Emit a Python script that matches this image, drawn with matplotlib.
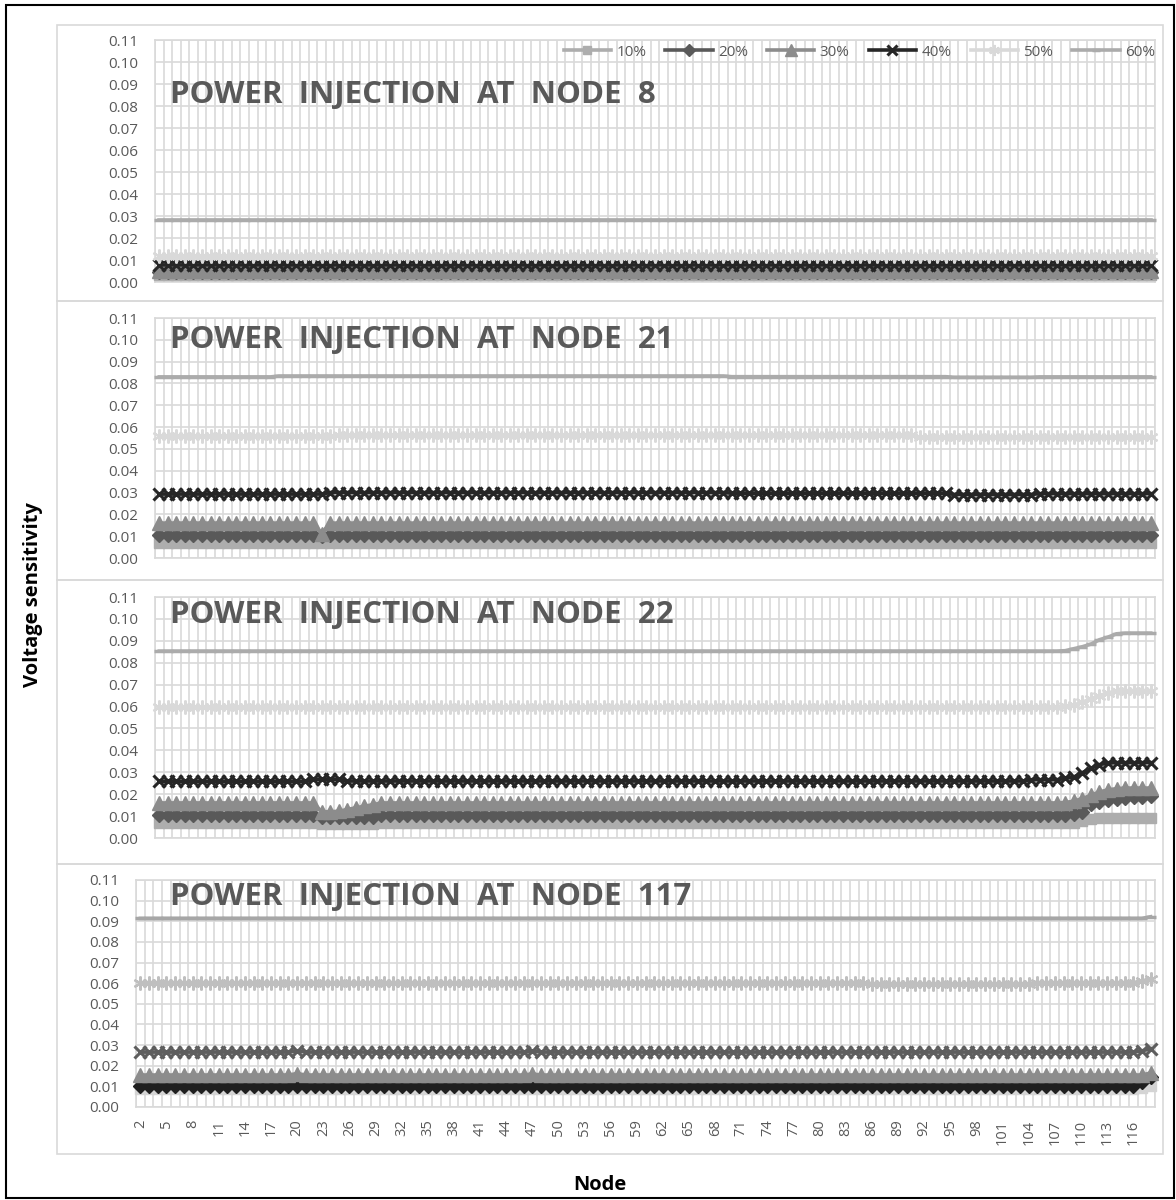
import numpy as np
import matplotlib
matplotlib.use("Agg")
import matplotlib.pyplot as plt
from matplotlib.patches import Rectangle
from matplotlib.ticker import FormatStrFormatter

plt.rcParams['font.family'] = ['Open Sans', 'DejaVu Sans']

# ---------------- data ----------------
NODES = list(range(2, 119))
TICK_NODES = list(range(2, 117, 3))
SERIES = ['10%', '20%', '30%', '40%', '50%', '60%']
Y_TICKS = [0.00, 0.01, 0.02, 0.03, 0.04, 0.05, 0.06, 0.07, 0.08, 0.09, 0.10, 0.11]
TITLES = ['POWER  INJECTION  AT  NODE  8', 'POWER  INJECTION  AT  NODE  21',
          'POWER  INJECTION  AT  NODE  22', 'POWER  INJECTION  AT  NODE  117']
UNIT = 1e-4  # values below are in units of 0.0001

# Injection at node 8
N8_10 = [
 30,30,30,30,30,30,30,30,30,30,
 30,30,30,30,30,30,30,30,30,30,
 30,30,30,30,30,30,30,30,30,30,
 30,30,30,30,30,30,30,30,30,30,
 30,30,30,30,30,30,30,30,30,30,
 30,30,30,30,30,30,30,30,30,30,
 30,30,30,30,30,30,30,30,30,30,
 30,30,30,30,30,30,30,30,30,30,
 30,30,30,30,30,30,30,30,30,30,
 30,30,30,30,30,30,30,30,30,30,
 30,30,30,30,30,30,30,30,30,30,
 30,30,30,30,30,30,30]
N8_20 = [
 45,45,45,45,45,45,45,45,45,45,
 45,45,45,45,45,45,45,45,45,45,
 45,45,45,45,45,45,45,45,45,45,
 45,45,45,45,45,45,45,45,45,45,
 45,45,45,45,45,45,45,45,45,45,
 45,45,45,45,45,45,45,45,45,45,
 45,45,45,45,45,45,45,45,45,45,
 45,45,45,45,45,45,45,45,45,45,
 45,45,45,45,45,45,45,45,45,45,
 45,45,45,45,45,45,45,45,45,45,
 45,45,45,45,45,45,45,45,45,45,
 45,45,45,45,45,45,45]
N8_30 = [
 50,50,50,50,50,50,50,50,50,50,
 50,50,50,50,50,50,50,50,50,50,
 50,50,50,50,50,50,50,50,50,50,
 50,50,50,50,50,50,50,50,50,50,
 50,50,50,50,50,50,50,50,50,50,
 50,50,50,50,50,50,50,50,50,50,
 50,50,50,50,50,50,50,50,50,50,
 50,50,50,50,50,50,50,50,50,50,
 50,50,50,50,50,50,50,50,50,50,
 50,50,50,50,50,50,50,50,50,50,
 50,50,50,50,50,50,50,50,50,50,
 50,50,50,50,50,50,50]
N8_40 = [
 77,77,77,77,77,77,77,77,77,77,
 77,77,77,77,77,77,77,77,77,77,
 77,77,77,77,77,77,77,77,77,77,
 77,77,77,77,77,77,77,77,77,77,
 77,77,77,77,77,77,77,77,77,77,
 77,77,77,77,77,77,77,77,77,77,
 77,77,77,77,77,77,77,77,77,77,
 77,77,77,77,77,77,77,77,77,77,
 77,77,77,77,77,77,77,77,77,77,
 77,77,77,77,77,77,77,77,77,77,
 77,77,77,77,77,77,77,77,77,77,
 77,77,77,77,77,77,77]
N8_50 = [
 118,118,118,118,118,118,118,118,118,118,
 118,118,118,118,118,118,118,118,118,118,
 118,118,118,118,118,118,118,118,118,118,
 118,118,118,118,118,118,118,118,118,118,
 118,118,118,118,118,118,118,118,118,118,
 118,118,118,118,118,118,118,118,118,118,
 118,118,118,118,118,118,118,118,118,118,
 118,118,118,118,118,118,118,118,118,118,
 118,118,118,118,118,118,118,118,118,118,
 118,118,118,118,118,118,118,118,118,118,
 118,118,118,118,118,118,118,118,118,118,
 118,118,118,118,118,118,118]
N8_60 = [
 283,283,283,283,283,283,283,283,283,283,
 283,283,283,283,283,283,283,283,283,283,
 283,283,283,283,283,283,283,283,283,283,
 283,283,283,283,283,283,283,283,283,283,
 283,283,283,283,283,283,283,283,283,283,
 283,283,283,283,283,283,283,283,283,283,
 283,283,283,283,283,283,283,283,283,283,
 283,283,283,283,283,283,283,283,283,283,
 283,283,283,283,283,283,283,283,283,283,
 283,283,283,283,283,283,283,283,283,283,
 283,283,283,283,283,283,283,283,283,283,
 283,283,283,283,283,283,283]

# Injection at node 21
N21_10 = [
 68,68,68,68,68,68,68,68,68,68,
 68,68,68,68,68,68,68,68,68,68,
 68,68,68,68,68,68,68,68,68,68,
 68,68,68,68,68,68,68,68,68,68,
 68,68,68,68,68,68,68,68,68,68,
 68,68,68,68,68,68,68,68,68,68,
 68,68,68,68,68,68,68,68,68,68,
 68,68,68,68,68,68,68,68,68,68,
 68,68,68,68,68,68,68,68,68,68,
 68,68,68,68,68,68,68,68,68,68,
 68,68,68,68,68,68,68,68,68,68,
 68,68,68,68,68,68,68]
N21_20 = [
 105,105,105,105,105,105,105,105,105,105,
 105,105,105,105,105,105,105,105,105,102,
 105,105,105,105,105,105,105,105,105,105,
 105,105,105,105,105,105,105,105,105,105,
 105,105,105,105,105,105,105,105,105,105,
 105,105,105,105,105,105,105,105,105,105,
 105,105,105,105,105,105,105,105,105,105,
 105,105,105,105,105,105,105,105,105,105,
 105,105,105,105,105,105,105,105,105,105,
 105,105,105,105,105,105,105,105,105,105,
 105,105,105,105,105,105,105,105,105,105,
 105,105,105,105,105,105,105]
N21_30 = [
 160,160,160,160,160,160,160,160,160,160,
 160,160,160,160,160,160,160,160,160,112,
 160,160,160,160,160,160,160,160,160,160,
 160,160,160,160,160,160,160,160,160,160,
 160,160,160,160,160,160,160,160,160,160,
 160,160,160,160,160,160,160,160,160,160,
 160,160,160,160,160,160,160,160,160,160,
 160,160,160,160,160,160,160,160,160,160,
 160,160,160,160,160,160,160,160,160,160,
 160,160,160,160,160,160,160,160,160,160,
 160,160,160,160,160,160,160,160,160,160,
 160,160,160,160,160,160,160]
N21_40 = [
 293,293,293,293,293,293,293,293,293,293,
 293,293,293,293,293,293,293,293,293,293,
 300,300,300,300,300,300,300,300,300,300,
 300,300,300,300,300,300,300,300,300,300,
 300,300,300,300,300,300,300,300,300,300,
 300,300,300,300,300,300,300,300,300,300,
 300,300,300,300,300,300,300,297,297,297,
 297,297,297,297,297,297,297,297,297,297,
 297,297,297,297,297,297,297,297,297,297,
 297,297,297,291,291,291,291,291,291,291,
 291,291,291,295,295,295,295,295,295,295,
 295,295,295,295,295,295,295]
N21_50 = [
 557,557,557,557,557,557,557,557,557,557,
 557,557,557,557,557,557,557,557,557,557,
 557,562,562,562,562,562,562,562,562,562,
 562,562,562,562,562,562,562,562,562,562,
 562,562,562,562,562,562,562,562,562,562,
 562,562,562,562,562,562,562,562,562,562,
 562,562,562,562,562,562,562,562,562,562,
 562,562,562,562,562,562,562,562,562,562,
 562,562,562,562,562,562,562,562,562,553,
 553,553,553,553,553,553,553,553,553,553,
 553,553,553,556,556,556,556,556,556,556,
 556,556,556,556,556,556,556]
N21_60 = [
 830,830,830,830,830,830,830,830,830,830,
 830,830,830,830,834,834,834,834,834,834,
 834,834,834,834,834,834,834,834,834,834,
 834,834,834,834,834,834,834,834,834,834,
 834,834,834,834,834,834,834,834,834,834,
 834,834,834,834,834,834,834,834,834,834,
 834,834,834,834,834,834,834,831,831,831,
 831,831,831,831,831,831,831,831,831,831,
 831,831,831,831,831,831,831,831,831,831,
 831,831,831,828,828,828,828,828,828,828,
 828,828,828,830,830,830,830,830,830,830,
 830,830,830,830,830,830,830]

# Injection at node 22
N22_10 = [
 70,70,70,70,70,70,70,70,70,70,
 70,70,70,70,70,70,70,70,70,65,
 65,65,65,65,65,65,70,70,70,70,
 70,70,70,70,70,70,70,70,70,70,
 70,70,70,70,70,70,70,70,70,70,
 70,70,70,70,70,70,70,70,70,70,
 70,70,70,70,70,70,70,70,70,70,
 70,70,70,70,70,70,70,70,70,70,
 70,70,70,70,70,70,70,70,70,70,
 70,70,70,70,70,70,70,70,70,70,
 70,70,70,70,70,70,70,70,78,86,
 93,93,93,93,93,93,93]
N22_20 = [
 105,105,105,105,105,105,105,105,105,105,
 105,105,105,105,105,105,105,105,105,98,
 98,98,98,98,98,98,105,105,105,105,
 105,105,105,105,105,105,105,105,105,105,
 105,105,105,105,105,105,105,105,105,105,
 105,105,105,105,105,105,105,105,105,105,
 105,105,105,105,105,105,105,105,105,105,
 105,105,105,105,105,105,105,105,105,105,
 105,105,105,105,105,105,105,105,105,105,
 105,105,105,105,105,105,105,105,105,105,
 105,105,105,105,105,105,105,108,120,155,
 165,172,178,182,186,189,192]
N22_30 = [
 160,160,160,160,160,160,160,160,160,160,
 160,160,160,160,160,160,160,160,160,120,
 120,122,130,138,145,152,160,160,160,160,
 160,160,160,160,160,160,160,160,160,160,
 160,160,160,160,160,160,160,160,160,160,
 160,160,160,160,160,160,160,160,160,160,
 160,160,160,160,160,160,160,160,160,160,
 160,160,160,160,160,160,160,160,160,160,
 160,160,160,160,160,160,160,160,160,160,
 160,160,160,160,160,160,160,160,160,160,
 160,160,160,160,160,160,162,168,180,195,
 210,220,225,228,228,228,228]
N22_40 = [
 258,258,258,258,258,258,258,258,258,258,
 258,258,258,258,258,258,258,258,268,268,
 268,268,260,260,260,260,260,260,260,260,
 260,260,260,260,260,260,260,260,260,260,
 260,260,260,260,260,260,260,260,260,260,
 260,260,260,260,260,260,260,260,260,260,
 260,260,260,260,260,260,260,260,260,260,
 260,260,260,260,260,260,260,260,260,260,
 260,260,260,260,260,260,260,260,260,260,
 260,260,260,260,260,260,260,260,260,260,
 260,260,266,266,266,266,272,278,298,318,
 335,342,344,344,344,344,344]
N22_50 = [
 598,598,598,598,598,598,598,598,598,598,
 598,598,598,598,598,598,598,598,598,598,
 598,598,598,598,598,598,598,598,598,598,
 598,598,598,598,598,598,598,598,598,598,
 598,598,598,598,598,598,598,598,598,598,
 598,598,598,598,598,598,598,598,598,598,
 598,598,598,598,598,598,598,598,598,598,
 598,598,598,598,598,598,598,598,598,598,
 598,598,598,598,598,598,598,598,598,598,
 598,598,598,598,598,598,598,598,598,598,
 598,598,598,598,598,598,602,607,620,635,
 650,663,670,672,673,673,673]
N22_60 = [
 853,853,853,853,853,853,853,853,853,853,
 853,853,853,853,853,853,853,853,853,853,
 853,853,853,853,853,853,853,853,853,853,
 853,853,853,853,853,853,853,853,853,853,
 853,853,853,853,853,853,853,853,853,853,
 853,853,853,853,853,853,853,853,853,853,
 853,853,853,853,853,853,853,853,853,853,
 853,853,853,853,853,853,853,853,853,853,
 853,853,853,853,853,853,853,853,853,853,
 853,853,853,853,853,853,853,853,853,853,
 853,853,853,853,853,853,855,864,873,885,
 905,917,932,935,935,935,935]

# Injection at node 117
N117_10 = [
 85,85,85,85,85,85,85,85,85,85,
 85,85,85,85,85,85,85,85,85,85,
 85,85,85,85,85,85,85,85,85,85,
 85,85,85,85,85,85,85,85,85,85,
 85,85,85,85,85,85,85,85,85,85,
 85,85,85,85,85,85,85,85,85,85,
 85,85,85,85,85,85,85,85,85,85,
 85,85,85,85,85,85,85,85,85,85,
 85,85,85,85,85,85,85,85,85,85,
 85,85,85,85,85,85,85,85,85,85,
 85,85,85,85,85,85,85,85,85,85,
 85,85,85,85,85,92,100]
N117_20 = [
 100,100,100,100,100,100,100,100,100,100,
 100,100,100,100,100,100,100,100,100,100,
 100,100,100,100,100,100,100,100,100,100,
 100,100,100,100,100,100,100,100,100,100,
 100,100,100,100,100,100,100,100,100,100,
 100,100,100,100,100,100,100,100,100,100,
 100,100,100,100,100,100,100,100,100,100,
 100,100,100,100,100,100,100,100,100,100,
 100,100,100,100,100,100,100,100,100,100,
 100,100,100,100,100,100,100,100,100,100,
 100,100,100,100,100,100,100,100,100,100,
 100,100,100,100,100,122,147]
N117_30 = [
 155,155,155,155,155,155,155,155,155,155,
 155,155,155,155,155,155,155,155,162,155,
 155,155,155,155,155,155,155,155,155,155,
 155,155,155,155,155,155,155,155,155,155,
 155,155,155,155,155,160,155,155,155,155,
 155,155,155,155,155,155,155,155,155,155,
 155,155,155,155,155,155,155,155,155,155,
 155,155,155,155,155,155,155,155,155,155,
 155,155,155,155,155,155,155,155,155,155,
 155,155,155,155,155,155,155,155,155,155,
 155,155,155,155,155,155,155,155,155,155,
 155,155,155,155,155,155,165]
N117_40 = [
 266,266,266,266,266,266,266,266,266,266,
 266,266,266,266,266,266,266,266,272,266,
 266,266,266,266,266,266,266,266,266,266,
 266,266,266,266,266,266,266,266,266,266,
 266,266,266,266,266,272,266,266,266,266,
 266,266,266,266,266,266,266,266,266,266,
 266,266,266,266,266,266,266,266,266,266,
 266,266,266,266,266,266,266,266,266,266,
 266,266,266,266,266,266,266,266,266,266,
 266,266,266,266,266,266,266,266,266,266,
 266,266,266,266,266,266,266,266,266,266,
 266,266,266,266,266,272,282]
N117_50 = [
 603,603,603,603,603,603,603,603,603,603,
 603,603,603,603,603,603,603,603,603,603,
 603,603,603,603,603,603,603,603,603,603,
 603,603,603,603,603,603,603,603,603,603,
 603,603,603,603,603,603,603,603,603,603,
 603,603,603,603,603,603,603,603,603,603,
 603,603,603,603,603,603,603,603,603,603,
 603,603,603,603,603,603,603,603,603,603,
 603,603,603,603,598,598,598,598,598,598,
 598,598,598,598,598,598,598,598,598,598,
 598,598,598,603,603,603,603,603,603,603,
 603,603,603,603,603,610,622]
N117_60 = [
 914,914,914,914,914,914,914,914,914,914,
 914,914,914,914,914,914,914,914,914,914,
 914,914,914,914,914,914,914,914,914,914,
 914,914,914,914,914,914,914,914,914,914,
 914,914,914,914,914,914,914,914,914,914,
 914,914,914,914,914,914,914,914,914,914,
 914,914,914,914,914,914,914,914,914,914,
 914,914,914,914,914,914,914,914,914,914,
 914,914,914,914,914,914,914,914,914,914,
 914,914,914,914,914,914,914,914,914,914,
 914,914,914,914,914,914,914,914,914,914,
 914,914,914,914,914,914,922]

PANEL_DATA = [
    [N8_10, N8_20, N8_30, N8_40, N8_50, N8_60],
    [N21_10, N21_20, N21_30, N21_40, N21_50, N21_60],
    [N22_10, N22_20, N22_30, N22_40, N22_50, N22_60],
    [N117_10, N117_20, N117_30, N117_40, N117_50, N117_60],
]
for pd_ in PANEL_DATA:
    for s in pd_:
        assert len(s) == len(NODES), len(s)

# ---------------- style ----------------
COLORS_A = ['#ADADAD', '#595959', '#8C8C8C', '#262626', '#D9D9D9', '#ABABAB']
COLORS_B = ['#D4D4D4', '#1F1F1F', '#8C8C8C', '#5E5E5E', '#BFBFBF', '#A6A6A6']
MARKERS = [('s', 7.0, 1.0), ('D', 7.5, 1.0), ('^', 10.5, 1.0),
           ('x', 8.5, 2.2), ((6, 2, 0), 10.0, 1.6), ('_', 7.0, 2.5)]
GRID = '#D9D9D9'
TXT = '#595959'

W, H = 1176, 1200
fig = plt.figure(figsize=(W / 100, H / 100), dpi=100)


def fx(px):
    return px / W


def fy(py):
    return 1 - py / H


# (plot left, plot top, plot bottom, box top, box bottom, title y, colors)
LAYOUT = [
    (155, 40, 282, 25, 301, 95, COLORS_A),
    (155, 318, 558, 301, 580, 340, COLORS_A),
    (155, 597, 838, 580, 864, 615, COLORS_A),
    (136, 880, 1107, 864, 1154, 897, COLORS_B),
]
PLOT_RIGHT = 1155

axes = []
for i, (lp, tp, bp, bt, bb, ty, cols) in enumerate(LAYOUT):
    ax = fig.add_axes([fx(lp), fy(bp), fx(PLOT_RIGHT) - fx(lp), fy(tp) - fy(bp)])
    axes.append(ax)
    # chart-area frame
    fig.add_artist(Rectangle((fx(57), fy(bb)), fx(1163) - fx(57), fy(bt) - fy(bb),
                             transform=fig.transFigure, fill=False,
                             ec=GRID, lw=1.2, zorder=0))
    lines = []
    for vals, c, (m, ms, mew), lab in zip(PANEL_DATA[i], cols, MARKERS, SERIES):
        y = np.array(vals) * UNIT
        ln, = ax.plot(NODES, y, color=c, lw=2.6, marker=m, ms=ms, mew=mew,
                      mfc=c, mec=c, label=lab, clip_on=False, zorder=3)
        lines.append(ln)
    ax.set_xlim(NODES[0] - 0.5, NODES[-1] + 0.5)
    ax.set_ylim(0, 0.11)
    ax.set_yticks(Y_TICKS)
    ax.yaxis.set_major_formatter(FormatStrFormatter('%.2f'))
    ax.set_xticks(TICK_NODES)
    ax.set_xticks(np.arange(NODES[0] - 0.5, NODES[-1] + 1, 1), minor=True)
    ax.grid(which='minor', axis='x', color=GRID, lw=1.2)
    ax.grid(which='major', axis='y', color=GRID, lw=1.2)
    ax.grid(which='major', axis='x', visible=False)
    ax.set_axisbelow(True)
    for sp in ax.spines.values():
        sp.set_color(GRID)
        sp.set_linewidth(1.2)
    ax.tick_params(axis='y', length=0, labelsize=11, labelcolor=TXT, pad=12)
    ax.tick_params(axis='x', which='both', length=0)
    if i == 3:
        ax.set_xticklabels([str(n) for n in TICK_NODES], rotation=90,
                           fontsize=10.5, color=TXT)
        ax.tick_params(axis='x', pad=9)
    else:
        ax.tick_params(axis='x', labelbottom=False)
    fig.text(fx(170), fy(ty), TITLES[i], fontsize=22.5, fontweight='bold',
             color=TXT, ha='left', va='center')
    if i == 0:
        small = [dict(ms=ms * 0.8) for (_, ms, _) in MARKERS]
        ax.legend(handles=lines, loc='center right',
                  bbox_to_anchor=(1.0, (bp - 52) / (bp - tp)), ncol=6,
                  frameon=False, handlelength=3.1, handletextpad=0.35,
                  columnspacing=1.25, fontsize=11, labelcolor=TXT,
                  borderaxespad=0, borderpad=0, markerscale=0.8)

fig.text(fx(33), fy(595), 'Voltage sensitivity', rotation=90, fontsize=14.5,
         fontweight='bold', color='black', ha='center', va='center')
fig.text(fx(600), fy(1185), 'Node', fontsize=14.5, fontweight='bold',
         color='black', ha='center', va='center')

fig.add_artist(Rectangle((fx(6), fy(1198)), fx(1174) - fx(6), fy(5) - fy(1198),
                         transform=fig.transFigure, fill=False, ec='black',
                         lw=1.5, zorder=0))

fig.savefig('out.png', dpi=100)
